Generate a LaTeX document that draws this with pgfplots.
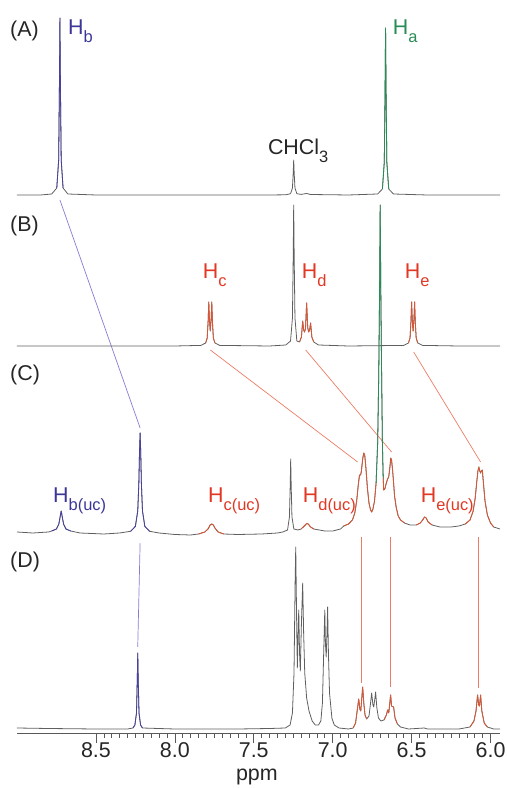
\documentclass[border=0pt]{standalone}
\usepackage{fontspec}
\setmainfont{Liberation Sans}
\usepackage{pgfplots}
\pgfplotsset{compat=1.18}
\definecolor{specgray}{RGB}{95,95,95}
\definecolor{bluetext}{RGB}{60,55,150}
\definecolor{bluespec}{RGB}{70,65,160}
\definecolor{blueconn}{RGB}{135,125,210}
\definecolor{greenspec}{RGB}{40,140,85}
\definecolor{redtext}{RGB}{225,55,35}
\definecolor{redspec}{RGB}{220,85,50}
\definecolor{redconn}{RGB}{235,125,100}
\newcommand{\lbl}{\fontsize{21.5}{24}\selectfont}
\newcommand{\sub}[1]{\raisebox{-8bp}{\fontsize{16.5}{16}\selectfont #1}}
\begin{document}
\begin{tikzpicture}
\begin{axis}[name=ax, scale only axis, width=483bp, height=733bp,
  xmin=5.94, xmax=9.0, x dir=reverse, ymin=0, ymax=733,
  axis x line*=bottom, axis y line=none, clip=false,
  xtick={6,6.5,7,7.5,8,8.5}, minor x tick num=9, xtick pos=left,
  tick align=outside, major tick length=10bp, minor tick length=5bp,
  xticklabel style={font=\lbl, anchor=base, yshift=-14bp, text=black!85},
  x tick label style={/pgf/number format/.cd, fixed, fixed zerofill, precision=1, assume math mode=true},
  axis line style={draw=black!65, line width=0.8pt},
  every tick/.style={draw=black!65, line width=0.6pt},
  every axis plot/.append style={line width=0.8pt, mark=none, line join=round}]
% ---------- connectors ----------
\addplot[blueconn, line width=0.7pt] coordinates {(8.728,533) (8.22,305)};
\addplot[redconn, line width=0.7pt] coordinates {(7.775,383) (6.842,271)};
\addplot[redconn, line width=0.7pt] coordinates {(7.171,383) (6.627,281)};
\addplot[redconn, line width=0.7pt] coordinates {(6.487,381) (6.063,271)};
\addplot[blueconn, line width=0.7pt] coordinates {(8.22,190) (8.235,86)};
\addplot[redconn, line width=0.7pt] coordinates {(6.820,196) (6.820,50)};
\addplot[redconn, line width=0.7pt] coordinates {(6.634,196) (6.634,46)};
\addplot[redconn, line width=0.7pt] coordinates {(6.076,196) (6.076,45)};
% ---------- spectrum A ----------
\addplot[specgray] coordinates {
(9.0,538) (8.85,538) (8.78,539) (8.748,545) (8.736,573) (8.731,651) (8.728,715) (8.725,651) (8.720,573) (8.708,545) (8.678,539) (8.5,538)
(7.40,538) (7.297,538.2) (7.267,539.3) (7.255,545) (7.250,560) (7.247,573) (7.244,560) (7.239,545) (7.227,539.3) (7.20,538.6) (7.165,539.5) (7.14,538.5)
(6.9,538) (6.715,539) (6.685,544) (6.673,571) (6.668,645) (6.665,705) (6.662,645) (6.657,571) (6.645,544) (6.615,539) (6.4,538) (5.94,538)};
\addplot[bluespec] coordinates {(8.748,545) (8.736,573) (8.731,651) (8.728,715) (8.725,651) (8.720,573) (8.708,545)};
\addplot[greenspec] coordinates {(6.685,544) (6.673,571) (6.668,645) (6.665,705) (6.662,645) (6.657,571) (6.645,544)};
% ---------- spectrum B ----------
\addplot[specgray] coordinates {
(9.0,387) (8.5,387) (8.0,387) (7.835,387.6) (7.805,390) (7.795,395) (7.789,412) (7.785,431) (7.781,414) (7.7755,402) (7.770,414) (7.766,431) (7.762,412) (7.756,395) (7.746,390) (7.716,387.6)
(7.4,387) (7.297,388) (7.267,392) (7.255,415) (7.250,477) (7.247,528) (7.244,477) (7.239,415) (7.227,392)
(7.21,391) (7.198,396) (7.19,412) (7.184,403) (7.178,401) (7.172,405) (7.165,430) (7.158,405) (7.152,401) (7.146,403) (7.14,410) (7.132,396) (7.12,391) (7.09,388)
(6.9,387) (6.55,387.6) (6.52,390) (6.51,395) (6.504,412) (6.50,431) (6.496,414) (6.4905,402) (6.485,414) (6.481,431) (6.477,412) (6.471,395) (6.461,390) (6.431,387.6) (6.2,387) (5.94,387)};
\addplot[redspec] coordinates {(7.805,390) (7.795,395) (7.789,412) (7.785,431) (7.781,414) (7.7755,402) (7.770,414) (7.766,431) (7.762,412) (7.756,395) (7.746,390)};
\addplot[redspec] coordinates {(7.21,391) (7.198,396) (7.19,412) (7.184,403) (7.178,401) (7.172,405) (7.165,430) (7.158,405) (7.152,401) (7.146,403) (7.14,410) (7.132,396) (7.12,391)};
\addplot[redspec] coordinates {(6.52,390) (6.51,395) (6.504,412) (6.50,431) (6.496,414) (6.4905,402) (6.485,414) (6.481,431) (6.477,412) (6.471,395) (6.461,390)};
% ---------- spectrum C ----------
\addplot[specgray] coordinates {
(9.0,201) (8.9,200) (8.80,201) (8.78,202) (8.75,204) (8.735,209) (8.728,215) (8.72,222) (8.712,215) (8.705,209) (8.69,204) (8.66,202) (8.6,200) (8.45,199) (8.35,200)
(8.28,201.7) (8.25,206.6) (8.235,222) (8.228,250) (8.224,280) (8.22,300) (8.216,280) (8.212,250) (8.205,222) (8.19,206.6) (8.16,201.7) (8.1,200) (8.0,198.5) (7.9,198)
(7.85,199) (7.81,201) (7.79,204) (7.776,208) (7.766,209) (7.756,208) (7.746,205) (7.726,201) (7.69,199) (7.6,198.5) (7.45,199) (7.35,200)
(7.316,201) (7.286,203) (7.274,216) (7.269,248) (7.266,274) (7.263,248) (7.258,216) (7.246,204) (7.22,203) (7.20,204) (7.18,207) (7.165,209.5) (7.155,209) (7.14,206) (7.12,204) (7.05,202) (7.0,202)
(6.95,204) (6.93,207) (6.90,209) (6.875,213) (6.86,220) (6.848,232) (6.838,248) (6.830,258) (6.823,258) (6.818,262) (6.81,274) (6.803,280) (6.797,278) (6.79,266) (6.78,245) (6.77,230) (6.76,223) (6.753,221) (6.745,224) (6.735,232)
(6.725,250) (6.715,290) (6.708,360) (6.703,440) (6.699,528) (6.695,440) (6.69,360) (6.685,290) (6.68,255)
(6.677,243) (6.67,244) (6.66,250) (6.652,254) (6.645,256) (6.638,265) (6.632,275) (6.627,273) (6.62,262) (6.614,250) (6.608,237) (6.598,226) (6.585,217) (6.57,213) (6.545,210) (6.51,208)
(6.47,208) (6.445,210) (6.43,213) (6.418,216) (6.408,215) (6.395,211) (6.37,208) (6.32,206) (6.25,206) (6.2,207) (6.16,209) (6.13,213) (6.11,222) (6.097,235) (6.088,250) (6.08,262) (6.074,266) (6.068,262) (6.063,260) (6.058,262) (6.052,263) (6.045,250) (6.035,232) (6.02,218) (6.0,210) (5.98,206) (5.94,204)};
\addplot[bluespec] coordinates {(8.78,202) (8.75,204) (8.735,209) (8.728,215) (8.72,222) (8.712,215) (8.705,209) (8.69,204) (8.66,202)};
\addplot[bluespec] coordinates {(8.28,201.7) (8.25,206.6) (8.235,222) (8.228,250) (8.224,280) (8.22,300) (8.216,280) (8.212,250) (8.205,222) (8.19,206.6) (8.16,201.7)};
\addplot[redspec] coordinates {(7.85,199) (7.81,201) (7.79,204) (7.776,208) (7.766,209) (7.756,208) (7.746,205) (7.726,201) (7.69,199)};
\addplot[redspec] coordinates {(7.20,204) (7.18,207) (7.165,209.5) (7.155,209) (7.14,206) (7.12,204)};
\addplot[redspec] coordinates {(6.93,207) (6.90,209) (6.875,213) (6.86,220) (6.848,232) (6.838,248) (6.830,258) (6.823,258) (6.818,262) (6.81,274) (6.803,280) (6.797,278) (6.79,266) (6.78,245) (6.77,230) (6.76,223) (6.753,221) (6.745,224) (6.735,232) (6.725,250)};
\addplot[redspec] coordinates {(6.68,255) (6.677,243) (6.67,244) (6.66,250) (6.652,254) (6.645,256) (6.638,265) (6.632,275) (6.627,273) (6.62,262) (6.614,250) (6.608,237) (6.598,226) (6.585,217) (6.57,213) (6.545,210)};
\addplot[redspec] coordinates {(6.47,208) (6.445,210) (6.43,213) (6.418,216) (6.408,215) (6.395,211) (6.37,208)};
\addplot[redspec] coordinates {(6.16,209) (6.13,213) (6.11,222) (6.097,235) (6.088,250) (6.08,262) (6.074,266) (6.068,262) (6.063,260) (6.058,262) (6.052,263) (6.045,250) (6.035,232) (6.02,218) (6.0,210) (5.98,206)};
\addplot[greenspec] coordinates {(6.725,250) (6.715,290) (6.708,360) (6.703,440) (6.699,528) (6.695,440) (6.69,360) (6.685,290) (6.68,255)};
% ---------- spectrum D ----------
\addplot[specgray] coordinates {
(9.0,5) (8.8,4.5) (8.5,4) (8.30,4) (8.265,5) (8.253,8) (8.243,20) (8.238,53) (8.235,80) (8.232,53) (8.227,20) (8.217,8) (8.205,5) (8.0,4) (7.6,4) (7.4,4.5)
(7.30,5) (7.27,8) (7.255,20) (7.245,60) (7.238,150) (7.234,186) (7.229,120) (7.224,65) (7.219,100) (7.215,123) (7.210,80) (7.205,62) (7.198,110) (7.19,150) (7.184,100) (7.177,60) (7.165,35) (7.15,22) (7.13,12) (7.11,8) (7.09,8)
(7.075,12) (7.065,30) (7.057,80) (7.05,123) (7.046,90) (7.041,76) (7.036,100) (7.032,126) (7.027,80) (7.02,40) (7.005,15) (6.99,8) (6.96,5) (6.90,4)
(6.87,5) (6.855,10) (6.845,22) (6.835,34) (6.828,24) (6.822,22) (6.815,36) (6.81,46) (6.803,30) (6.795,18) (6.785,14) (6.77,17) (6.76,30) (6.753,40) (6.745,28) (6.740,26) (6.733,34) (6.728,41) (6.72,25) (6.71,15) (6.695,12) (6.675,13)
(6.66,18) (6.652,23) (6.645,20) (6.638,30) (6.633,38) (6.627,27) (6.614,26) (6.605,15) (6.59,9) (6.57,6) (6.52,4) (6.42,5) (6.40,4) (6.2,4)
(6.13,6) (6.105,12) (6.092,22) (6.082,38) (6.075,28) (6.07,27) (6.063,38) (6.055,22) (6.04,10) (6.02,6) (5.98,4) (5.94,4)};
\addplot[bluespec] coordinates {(8.265,5) (8.253,8) (8.243,20) (8.238,53) (8.235,80) (8.232,53) (8.227,20) (8.217,8) (8.205,5)};
\addplot[redspec] coordinates {(6.87,5) (6.855,10) (6.845,22) (6.835,34) (6.828,24) (6.822,22) (6.815,36) (6.81,46) (6.803,30) (6.795,18) (6.785,14)};
\addplot[redspec] coordinates {(6.675,13) (6.66,18) (6.652,23) (6.645,20) (6.638,30) (6.633,38) (6.627,27) (6.614,26) (6.605,15) (6.59,9)};
\addplot[redspec] coordinates {(6.13,6) (6.105,12) (6.092,22) (6.082,38) (6.075,28) (6.07,27) (6.063,38) (6.055,22) (6.04,10) (6.02,6)};
% ---------- labels ----------
\begin{scope}[every node/.style={inner sep=0pt, anchor=base west, font=\lbl}]
\node[text=black!85] at (axis cs:9.044,696) {(A)};
\node[text=black!85] at (axis cs:9.044,501) {(B)};
\node[text=black!85] at (axis cs:9.044,352) {(C)};
\node[text=black!85] at (axis cs:9.044,165) {(D)};
\node[text=bluetext] at (axis cs:8.677,698) {H\sub{b}};
\node[text=greenspec] at (axis cs:6.62,698) {H\sub{a}};
\node[text=black!85] at (axis cs:7.411,578) {CHCl\sub{3}};
\node[text=redtext] at (axis cs:7.823,454) {H\sub{c}};
\node[text=redtext] at (axis cs:7.196,454) {H\sub{d}};
\node[text=redtext] at (axis cs:6.544,454) {H\sub{e}};
\node[text=bluetext] at (axis cs:8.772,230) {H\sub{b(uc)}};
\node[text=redtext] at (axis cs:7.79,230) {H\sub{c(uc)}};
\node[text=redtext] at (axis cs:7.19,230) {H\sub{d(uc)}};
\node[text=redtext] at (axis cs:6.443,230) {H\sub{e(uc)}};
\node[anchor=base, text=black!85] at (axis cs:7.48,-47) {ppm};
\end{scope}
\end{axis}
\pgfresetboundingbox
\path[use as bounding box] (ax.south west) ++(-17bp,-55bp) rectangle ++(507bp,788bp);
\end{tikzpicture}
\end{document}
